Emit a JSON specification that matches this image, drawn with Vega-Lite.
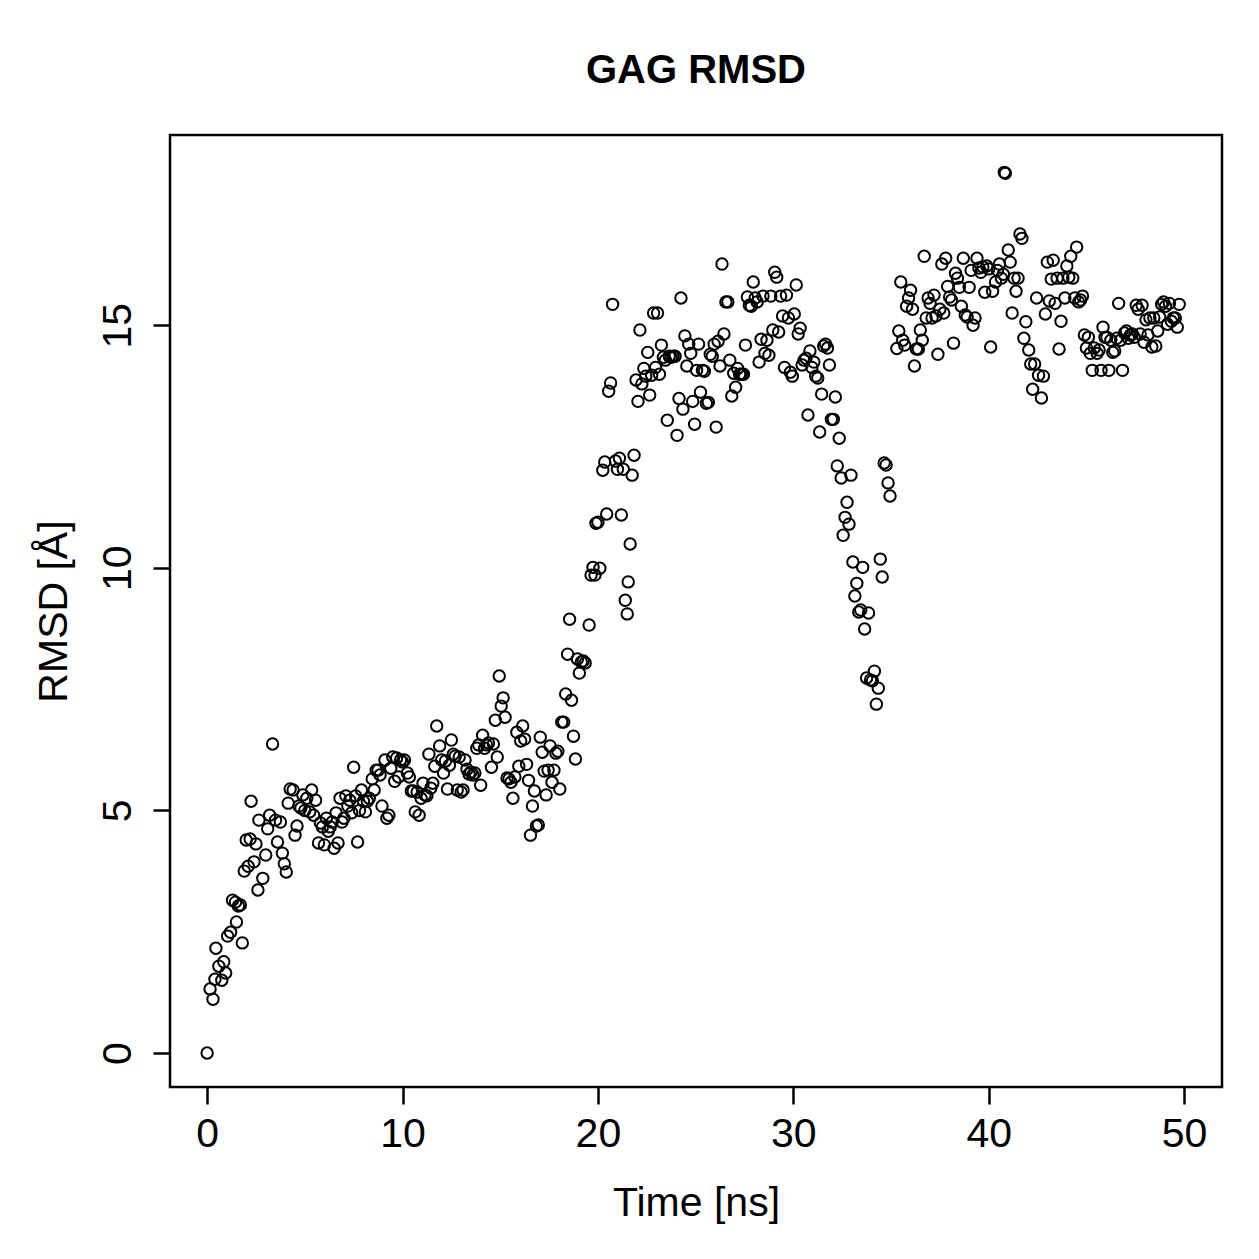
{
"$schema": "https://vega.github.io/schema/vega-lite/v6.json",
"width": 1052, "height": 952,
"autosize": {"type": "none"},
"padding": {"left": 170, "top": 135, "right": 37, "bottom": 172},
"background": "white",
"title": {"text": "GAG RMSD", "font": "Liberation Sans", "fontSize": 40, "fontWeight": "bold", "color": "black", "anchor": "middle", "frame": "group", "baseline": "alphabetic", "offset": 12},
"config": {"view": {"stroke": "black", "strokeWidth": 2.5}},
"data": {"values": [
{"t":0,"r":0},{"t":0.15,"r":1.32},{"t":0.3,"r":1.11},{"t":0.4,"r":1.52},{"t":0.45,"r":2.16},{"t":0.6,"r":1.79},{"t":0.75,"r":1.5},{"t":0.85,"r":1.88},{"t":0.95,"r":1.65},{"t":1.05,"r":2.41},
{"t":1.2,"r":2.49},{"t":1.3,"r":3.15},{"t":1.45,"r":3.11},{"t":1.5,"r":2.7},{"t":1.6,"r":3.03},{"t":1.7,"r":3.05},{"t":1.8,"r":2.27},{"t":1.9,"r":3.75},{"t":2.0,"r":4.39},{"t":2.1,"r":3.85},
{"t":2.2,"r":4.41},{"t":2.25,"r":5.19},{"t":2.4,"r":3.94},{"t":2.5,"r":4.31},{"t":2.6,"r":3.36},{"t":2.65,"r":4.8},{"t":2.85,"r":3.6},{"t":3.0,"r":4.08},{"t":3.1,"r":4.62},{"t":3.2,"r":4.9},
{"t":3.35,"r":6.37},{"t":3.5,"r":4.8},{"t":3.6,"r":4.35},{"t":3.75,"r":4.76},{"t":3.85,"r":4.12},{"t":3.95,"r":3.9},{"t":4.05,"r":3.73},{"t":4.15,"r":5.15},{"t":4.25,"r":5.44},{"t":4.4,"r":5.42},
{"t":4.5,"r":4.49},{"t":4.6,"r":4.68},{"t":4.7,"r":5.09},{"t":4.8,"r":5.05},{"t":4.9,"r":5.32},{"t":5.0,"r":5.0},{"t":5.1,"r":5.25},{"t":5.25,"r":4.97},{"t":5.35,"r":5.42},{"t":5.45,"r":4.9},
{"t":5.55,"r":5.21},{"t":5.7,"r":4.33},{"t":5.8,"r":4.74},{"t":5.9,"r":4.66},{"t":6.0,"r":4.29},{"t":6.1,"r":4.84},{"t":6.2,"r":4.57},{"t":6.3,"r":4.66},{"t":6.4,"r":4.76},{"t":6.5,"r":4.22},
{"t":6.6,"r":4.95},{"t":6.7,"r":4.33},{"t":6.8,"r":5.25},{"t":6.9,"r":4.76},{"t":7.0,"r":4.84},{"t":7.1,"r":5.3},{"t":7.2,"r":5.09},{"t":7.3,"r":5.21},{"t":7.4,"r":4.95},{"t":7.5,"r":5.89},
{"t":7.6,"r":5.3},{"t":7.7,"r":4.35},{"t":7.8,"r":5.0},{"t":7.9,"r":5.42},{"t":8.0,"r":5.19},{"t":8.1,"r":4.97},{"t":8.2,"r":5.19},{"t":8.3,"r":5.25},{"t":8.45,"r":5.65},{"t":8.55,"r":5.42},
{"t":8.65,"r":5.83},{"t":8.75,"r":5.83},{"t":8.85,"r":5.73},{"t":8.95,"r":5.09},{"t":9.1,"r":6.04},{"t":9.2,"r":4.84},{"t":9.3,"r":4.9},{"t":9.4,"r":5.87},{"t":9.5,"r":6.1},{"t":9.6,"r":5.6},
{"t":9.7,"r":6.08},{"t":9.8,"r":5.69},{"t":9.9,"r":6.04},{"t":10.0,"r":6.0},{"t":10.1,"r":6.04},{"t":10.25,"r":5.77},{"t":10.35,"r":5.69},{"t":10.45,"r":5.4},{"t":10.55,"r":5.4},{"t":10.65,"r":4.97},
{"t":10.75,"r":5.38},{"t":10.85,"r":4.9},{"t":10.95,"r":5.25},{"t":11.05,"r":5.56},{"t":11.15,"r":5.32},{"t":11.25,"r":5.3},{"t":11.35,"r":6.16},{"t":11.45,"r":5.46},{"t":11.55,"r":5.56},{"t":11.65,"r":5.91},
{"t":11.75,"r":6.74},{"t":11.9,"r":6.33},{"t":12.0,"r":6.04},{"t":12.1,"r":5.77},{"t":12.2,"r":6.02},{"t":12.3,"r":5.44},{"t":12.4,"r":5.93},{"t":12.5,"r":6.45},{"t":12.6,"r":6.16},{"t":12.7,"r":6.12},
{"t":12.8,"r":5.42},{"t":12.9,"r":6.1},{"t":13.0,"r":5.38},{"t":13.1,"r":5.42},{"t":13.2,"r":6.04},{"t":13.3,"r":5.85},{"t":13.4,"r":5.75},{"t":13.5,"r":5.79},{"t":13.6,"r":5.73},{"t":13.7,"r":5.77},
{"t":13.8,"r":6.28},{"t":13.9,"r":6.35},{"t":14.0,"r":5.52},{"t":14.1,"r":6.55},{"t":14.2,"r":6.28},{"t":14.3,"r":6.35},{"t":14.4,"r":6.39},{"t":14.55,"r":5.89},{"t":14.65,"r":6.37},{"t":14.75,"r":6.86},
{"t":14.85,"r":6.1},{"t":14.95,"r":7.77},{"t":15.05,"r":7.15},{"t":15.15,"r":7.32},{"t":15.25,"r":6.92},{"t":15.35,"r":5.67},{"t":15.45,"r":5.65},{"t":15.55,"r":5.58},{"t":15.65,"r":5.25},{"t":15.75,"r":5.69},
{"t":15.85,"r":6.61},{"t":15.95,"r":5.91},{"t":16.05,"r":6.43},{"t":16.15,"r":6.74},{"t":16.25,"r":6.47},{"t":16.35,"r":5.95},{"t":16.45,"r":5.62},{"t":16.55,"r":4.49},{"t":16.65,"r":5.09},{"t":16.75,"r":5.4},
{"t":16.85,"r":4.68},{"t":16.95,"r":4.7},{"t":17.05,"r":6.51},{"t":17.15,"r":6.2},{"t":17.25,"r":5.81},{"t":17.35,"r":5.32},{"t":17.45,"r":5.83},{"t":17.55,"r":6.33},{"t":17.65,"r":5.58},{"t":17.75,"r":5.83},
{"t":17.85,"r":6.18},{"t":17.95,"r":6.22},{"t":18.05,"r":5.44},{"t":18.15,"r":6.82},{"t":18.25,"r":6.82},{"t":18.35,"r":7.4},{"t":18.45,"r":8.22},{"t":18.55,"r":8.94},{"t":18.65,"r":7.27},{"t":18.75,"r":6.53},
{"t":18.85,"r":6.06},{"t":18.95,"r":8.12},{"t":19.05,"r":7.83},{"t":19.15,"r":8.06},{"t":19.25,"r":8.08},{"t":19.35,"r":8.04},{"t":19.55,"r":8.82},{"t":19.65,"r":9.85},{"t":19.75,"r":10.01},{"t":19.85,"r":9.85},
{"t":19.9,"r":10.92},{"t":20.0,"r":10.94},{"t":20.1,"r":9.99},{"t":20.25,"r":12.01},{"t":20.35,"r":12.18},{"t":20.45,"r":11.11},{"t":20.55,"r":13.64},{"t":20.65,"r":13.81},{"t":20.75,"r":15.43},{"t":20.9,"r":12.2},
{"t":21.0,"r":12.03},{"t":21.1,"r":12.26},{"t":21.2,"r":11.09},{"t":21.3,"r":12.03},{"t":21.4,"r":9.33},{"t":21.5,"r":9.05},{"t":21.55,"r":9.71},{"t":21.65,"r":10.49},{"t":21.75,"r":11.91},{"t":21.85,"r":12.32},
{"t":21.95,"r":13.87},{"t":22.05,"r":13.43},{"t":22.15,"r":14.9},{"t":22.25,"r":13.79},{"t":22.35,"r":14.11},{"t":22.45,"r":13.95},{"t":22.55,"r":14.44},{"t":22.65,"r":13.56},{"t":22.75,"r":13.97},{"t":22.85,"r":15.25},
{"t":22.95,"r":14.13},{"t":23.05,"r":15.25},{"t":23.15,"r":13.99},{"t":23.25,"r":14.59},{"t":23.35,"r":14.34},{"t":23.45,"r":14.28},{"t":23.55,"r":13.04},{"t":23.65,"r":14.36},{"t":23.75,"r":14.34},{"t":23.85,"r":14.36},
{"t":23.95,"r":14.36},{"t":24.05,"r":12.73},{"t":24.15,"r":13.49},{"t":24.25,"r":15.56},{"t":24.35,"r":13.27},{"t":24.45,"r":14.78},{"t":24.55,"r":14.16},{"t":24.65,"r":14.61},{"t":24.75,"r":14.42},{"t":24.85,"r":13.43},
{"t":24.95,"r":12.96},{"t":25.05,"r":14.07},{"t":25.15,"r":14.61},{"t":25.25,"r":13.62},{"t":25.35,"r":14.07},{"t":25.45,"r":14.05},{"t":25.55,"r":13.39},{"t":25.65,"r":13.41},{"t":25.75,"r":14.4},{"t":25.85,"r":14.36},
{"t":25.95,"r":14.61},{"t":26.05,"r":12.9},{"t":26.15,"r":14.67},{"t":26.25,"r":14.16},{"t":26.35,"r":16.26},{"t":26.45,"r":14.82},{"t":26.55,"r":15.48},{"t":26.65,"r":15.48},{"t":26.75,"r":14.28},{"t":26.85,"r":13.54},
{"t":26.95,"r":14.01},{"t":27.05,"r":13.72},{"t":27.15,"r":14.11},{"t":27.25,"r":13.99},{"t":27.35,"r":13.99},{"t":27.45,"r":13.99},{"t":27.55,"r":14.59},{"t":27.65,"r":15.58},{"t":27.75,"r":15.41},{"t":27.85,"r":15.39},
{"t":27.95,"r":15.89},{"t":28.05,"r":15.56},{"t":28.15,"r":15.48},{"t":28.25,"r":14.24},{"t":28.35,"r":14.71},{"t":28.45,"r":15.6},{"t":28.55,"r":14.42},{"t":28.65,"r":14.69},{"t":28.75,"r":14.38},{"t":28.85,"r":15.6},
{"t":28.95,"r":14.9},{"t":29.05,"r":16.09},{"t":29.15,"r":15.99},{"t":29.25,"r":14.86},{"t":29.35,"r":15.6},{"t":29.45,"r":15.19},{"t":29.55,"r":14.13},{"t":29.65,"r":15.62},{"t":29.75,"r":15.15},{"t":29.85,"r":14.03},
{"t":29.95,"r":13.95},{"t":30.05,"r":15.23},{"t":30.15,"r":15.83},{"t":30.25,"r":14.82},{"t":30.35,"r":14.94},{"t":30.45,"r":14.18},{"t":30.55,"r":14.28},{"t":30.65,"r":14.32},{"t":30.75,"r":13.15},{"t":30.85,"r":14.47},
{"t":30.95,"r":14.13},{"t":31.05,"r":14.24},{"t":31.15,"r":13.95},{"t":31.25,"r":13.91},{"t":31.35,"r":12.8},{"t":31.45,"r":13.58},{"t":31.55,"r":14.57},{"t":31.65,"r":14.61},{"t":31.75,"r":14.53},{"t":31.85,"r":14.18},
{"t":31.95,"r":13.06},{"t":32.05,"r":13.06},{"t":32.15,"r":13.52},{"t":32.25,"r":12.1},{"t":32.35,"r":12.67},{"t":32.45,"r":11.85},{"t":32.55,"r":10.67},{"t":32.65,"r":11.04},{"t":32.75,"r":11.35},{"t":32.85,"r":10.9},
{"t":32.95,"r":11.91},{"t":33.05,"r":10.12},{"t":33.15,"r":9.42},{"t":33.25,"r":9.68},{"t":33.35,"r":9.09},{"t":33.45,"r":9.13},{"t":33.55,"r":10.01},{"t":33.65,"r":8.74},{"t":33.75,"r":7.73},{"t":33.85,"r":9.07},
{"t":33.95,"r":7.69},{"t":34.05,"r":7.67},{"t":34.15,"r":7.87},{"t":34.25,"r":7.19},{"t":34.35,"r":7.52},{"t":34.45,"r":10.18},{"t":34.55,"r":9.81},{"t":34.65,"r":12.16},{"t":34.75,"r":12.12},{"t":34.85,"r":11.75},
{"t":34.95,"r":11.48},{"t":35.3,"r":14.52},{"t":35.4,"r":14.88},{"t":35.5,"r":15.89},{"t":35.6,"r":14.69},{"t":35.7,"r":14.59},{"t":35.8,"r":15.39},{"t":35.9,"r":15.56},{"t":36.0,"r":15.72},{"t":36.1,"r":15.33},
{"t":36.2,"r":14.16},{"t":36.3,"r":14.51},{"t":36.4,"r":14.51},{"t":36.5,"r":14.9},{"t":36.6,"r":14.69},{"t":36.7,"r":16.42},{"t":36.8,"r":15.15},{"t":36.9,"r":15.56},{"t":37.0,"r":15.45},{"t":37.1,"r":15.15},
{"t":37.2,"r":15.62},{"t":37.3,"r":15.19},{"t":37.4,"r":14.4},{"t":37.5,"r":15.33},{"t":37.6,"r":16.26},{"t":37.7,"r":15.25},{"t":37.8,"r":16.38},{"t":37.9,"r":15.8},{"t":38.0,"r":15.58},{"t":38.1,"r":15.52},
{"t":38.2,"r":14.63},{"t":38.3,"r":16.07},{"t":38.4,"r":15.97},{"t":38.5,"r":15.78},{"t":38.6,"r":15.39},{"t":38.7,"r":16.38},{"t":38.8,"r":15.21},{"t":38.9,"r":15.17},{"t":39.0,"r":15.78},{"t":39.1,"r":16.13},
{"t":39.2,"r":15.0},{"t":39.3,"r":15.15},{"t":39.4,"r":16.38},{"t":39.5,"r":16.18},{"t":39.6,"r":16.09},{"t":39.7,"r":16.2},{"t":39.8,"r":15.68},{"t":39.9,"r":16.22},{"t":40.0,"r":16.16},{"t":40.1,"r":14.55},
{"t":40.2,"r":15.7},{"t":40.35,"r":15.89},{"t":40.45,"r":16.13},{"t":40.55,"r":16.26},{"t":40.65,"r":15.97},{"t":40.75,"r":16.05},{"t":40.8,"r":18.15},{"t":40.85,"r":18.13},{"t":41.0,"r":16.55},{"t":41.1,"r":16.3},
{"t":41.2,"r":15.25},{"t":41.3,"r":15.97},{"t":41.4,"r":15.7},{"t":41.5,"r":15.97},{"t":41.6,"r":16.88},{"t":41.7,"r":16.79},{"t":41.8,"r":14.73},{"t":41.9,"r":15.07},{"t":42.05,"r":14.49},{"t":42.15,"r":14.2},
{"t":42.25,"r":13.68},{"t":42.35,"r":14.2},{"t":42.45,"r":15.56},{"t":42.55,"r":13.97},{"t":42.7,"r":13.5},{"t":42.8,"r":13.95},{"t":42.9,"r":15.23},{"t":43.0,"r":16.3},{"t":43.1,"r":15.5},{"t":43.2,"r":15.95},
{"t":43.3,"r":16.34},{"t":43.4,"r":15.45},{"t":43.5,"r":15.97},{"t":43.6,"r":14.51},{"t":43.7,"r":15.08},{"t":43.8,"r":15.97},{"t":43.9,"r":15.56},{"t":44.0,"r":16.22},{"t":44.1,"r":15.99},{"t":44.2,"r":16.42},
{"t":44.3,"r":15.97},{"t":44.4,"r":15.56},{"t":44.5,"r":16.61},{"t":44.6,"r":15.48},{"t":44.7,"r":15.52},{"t":44.8,"r":15.6},{"t":44.9,"r":14.8},{"t":45.0,"r":14.53},{"t":45.1,"r":14.75},{"t":45.2,"r":14.42},
{"t":45.3,"r":14.07},{"t":45.4,"r":14.53},{"t":45.55,"r":14.42},{"t":45.65,"r":14.49},{"t":45.75,"r":14.07},{"t":45.85,"r":14.96},{"t":45.95,"r":14.75},{"t":46.05,"r":14.75},{"t":46.15,"r":14.07},{"t":46.25,"r":14.69},
{"t":46.35,"r":14.44},{"t":46.45,"r":14.47},{"t":46.55,"r":14.73},{"t":46.65,"r":15.45},{"t":46.75,"r":14.69},{"t":46.85,"r":14.07},{"t":46.95,"r":14.84},{"t":47.05,"r":14.88},{"t":47.15,"r":14.73},{"t":47.25,"r":14.8},
{"t":47.35,"r":14.82},{"t":47.45,"r":14.75},{"t":47.55,"r":15.41},{"t":47.65,"r":15.33},{"t":47.75,"r":14.82},{"t":47.85,"r":15.41},{"t":47.95,"r":14.65},{"t":48.05,"r":15.11},{"t":48.15,"r":14.8},{"t":48.25,"r":15.15},
{"t":48.35,"r":14.55},{"t":48.45,"r":15.15},{"t":48.55,"r":14.57},{"t":48.65,"r":14.88},{"t":48.75,"r":15.17},{"t":48.85,"r":15.43},{"t":48.95,"r":15.48},{"t":49.05,"r":15.39},{"t":49.15,"r":15.02},{"t":49.25,"r":15.45},
{"t":49.35,"r":15.08},{"t":49.45,"r":15.15},{"t":49.55,"r":15.15},{"t":49.65,"r":14.96},{"t":49.75,"r":15.43}
]},
"mark": {"type": "point", "shape": "circle", "filled": false, "stroke": "black", "strokeWidth": 2, "size": 130, "opacity": 1, "clip": false},
"encoding": {
"x": {"field": "t", "type": "quantitative", "scale": {"domain": [-1.9, 51.94], "nice": false, "zero": false},
 "axis": {"values": [0,10,20,30,40,50], "grid": false, "domain": false, "ticks": true, "tickSize": 17, "tickWidth": 2.5, "tickColor": "black",
  "labelFont": "Liberation Sans", "labelFontSize": 41, "labelColor": "black", "labelPadding": 10, "labelFlush": false, "labelOverlap": false,
  "title": "Time [ns]", "titleFont": "Liberation Sans", "titleFontSize": 41, "titleFontWeight": "normal", "titleColor": "black", "titleBaseline": "alphabetic", "titleX": 526, "titleY": 128}},
"y": {"field": "r", "type": "quantitative", "scale": {"domain": [-0.7, 18.92], "nice": false, "zero": false},
 "axis": {"values": [0,5,10,15], "grid": false, "domain": false, "ticks": true, "tickSize": 17, "tickWidth": 2.5, "tickColor": "black",
  "labelFont": "Liberation Sans", "labelFontSize": 41, "labelColor": "black", "labelAngle": -90, "labelAlign": "center", "labelBaseline": "bottom", "labelPadding": 14, "labelFlush": false, "labelOverlap": false,
  "title": "RMSD [Å]", "titleFont": "Liberation Sans", "titleFontSize": 41, "titleFontWeight": "normal", "titleColor": "black", "titleAngle": -90, "titleAlign": "center", "titleBaseline": "alphabetic", "titleX": -104, "titleY": 476}}
}
}
